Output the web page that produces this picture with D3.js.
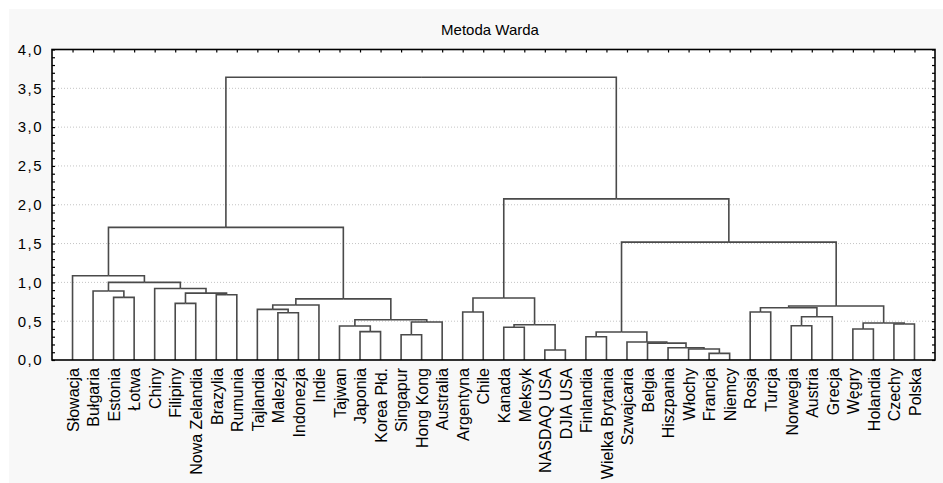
<!DOCTYPE html>
<html>
<head>
<meta charset="utf-8">
<script src="https://cdn.jsdelivr.net/npm/d3@7"></script>
<style>
  html, body { margin: 0; padding: 0; background: #fff; }
  svg { display: block; font-family: "Liberation Sans", Arial, sans-serif; }
</style>
</head>
<body>
<svg id="chart" width="943" height="483"></svg>
<script>
// ---------------- data ----------------
const title = "Metoda Warda";

const leaves = [
  "Słowacja","Bułgaria","Estonia","Łotwa","Chiny","Filipiny","Nowa Zelandia","Brazylia","Rumunia",
  "Tajlandia","Malezja","Indonezja","Indie","Tajwan","Japonia","Korea Płd.","Singapur","Hong Kong","Australia",
  "Argentyna","Chile","Kanada","Meksyk","NASDAQ USA","DJIA USA",
  "Finlandia","Wielka Brytania","Szwajcaria","Belgia","Hiszpania","Włochy","Francja","Niemcy",
  "Rosja","Turcja","Norwegia","Austria","Grecja","Węgry","Holandia","Czechy","Polska"
];

// merges: [cluster id, child A, child B, linkage distance]
const merges = [
  ["L1","Estonia","Łotwa",0.807],
  ["L2","Bułgaria","L1",0.888],
  ["L3","Filipiny","Nowa Zelandia",0.730],
  ["L4","Brazylia","Rumunia",0.840],
  ["L5","L3","L4",0.862],
  ["L6","Chiny","L5",0.922],
  ["L7","L2","L6",1.000],
  ["L8","Słowacja","L7",1.085],
  ["A1","Malezja","Indonezja",0.609],
  ["A2","Tajlandia","A1",0.652],
  ["A3","A2","Indie",0.708],
  ["A4","Japonia","Korea Płd.",0.365],
  ["A5","Tajwan","A4",0.438],
  ["A6","Singapur","Hong Kong",0.326],
  ["A7","A6","Australia",0.489],
  ["A8","A5","A7",0.519],
  ["A9","A3","A8",0.787],
  ["LEFT","L8","A9",1.709],
  ["B1","Argentyna","Chile",0.618],
  ["B2","Kanada","Meksyk",0.421],
  ["B3","NASDAQ USA","DJIA USA",0.129],
  ["B4","B2","B3",0.455],
  ["B5","B1","B4",0.798],
  ["C1","Finlandia","Wielka Brytania",0.300],
  ["C2","Francja","Niemcy",0.085],
  ["C3","Włochy","C2",0.142],
  ["C4","Hiszpania","C3",0.158],
  ["C5","Belgia","C4",0.218],
  ["C6","Szwajcaria","C5",0.232],
  ["C7","C1","C6",0.360],
  ["D1","Rosja","Turcja",0.618],
  ["D2","Norwegia","Austria",0.442],
  ["D3","D2","Grecja",0.557],
  ["D4","D1","D3",0.673],
  ["D5","Węgry","Holandia",0.399],
  ["D6","Czechy","Polska",0.463],
  ["D7","D5","D6",0.476],
  ["D8","D4","D7",0.695],
  ["E1","C7","D8",1.519],
  ["E2","B5","E1",2.076],
  ["ROOT","LEFT","E2",3.642]
];

const yMajorTicks = [0,0.5,1,1.5,2,2.5,3,3.5,4];
const yMinorTicks = d3.range(0, 40.5, 1).map(d => d / 10);
const gridTicks = [0.5,1,1.5,2,2.5,3,3.5];

// ---------------- layout ----------------
const W = 943, H = 483;
const plot = { left: 52, right: 935, top: 49.5, bottom: 360 };

const svg = d3.select("#chart");

// backgrounds
svg.append("rect").attr("x",0).attr("y",0).attr("width",W).attr("height",H).attr("fill","#f8f8f8");
svg.append("rect").attr("x",0).attr("y",0).attr("width",W).attr("height",9).attr("fill","#ffffff");
svg.append("rect").attr("x",0).attr("y",0).attr("width",9).attr("height",H).attr("fill","#ffffff");
svg.append("rect").attr("x",plot.left).attr("y",plot.top)
   .attr("width",plot.right-plot.left).attr("height",plot.bottom-plot.top).attr("fill","#ffffff");

const x = d3.scalePoint().domain(leaves).range([plot.left, plot.right]).padding(1);
const y = d3.scaleLinear().domain([0,4]).range([plot.bottom, plot.top]);

// build hierarchy
const nodeMap = new Map();
leaves.forEach(n => nodeMap.set(n, { id: n, height: 0, children: null }));
merges.forEach(([id,a,b,h]) => nodeMap.set(id, { id, height: h, children: [nodeMap.get(a), nodeMap.get(b)] }));
const root = d3.hierarchy(nodeMap.get("ROOT"), d => d.children);
root.eachAfter(n => {
  n.px = n.children ? d3.mean(n.children, c => c.px) : x(n.data.id);
  n.py = y(n.data.height);
});

// grid lines
svg.append("g").selectAll("line").data(gridTicks).join("line")
  .attr("x1", plot.left).attr("x2", plot.right)
  .attr("y1", d => y(d)).attr("y2", d => y(d))
  .attr("stroke", "#c4c4c4").attr("stroke-width", 1)
  .attr("stroke-dasharray", "1,2");

// dendrogram links
const links = [];
root.each(n => { if (n.children) n.children.forEach(c => links.push({ p: n, c })); });
svg.append("g").selectAll("path").data(links).join("path")
  .attr("d", d => `M${d.c.px},${d.c.py}V${d.p.py}H${d.p.px}`)
  .attr("fill","none").attr("stroke","#4a4a4a").attr("stroke-width",1.6);

// axes
const fmt = d => d3.format(".1f")(d).replace(".", ",");

const gLeftMinor = svg.append("g").attr("transform",`translate(${plot.left},0)`)
  .call(d3.axisRight(y).tickValues(yMinorTicks).tickSize(3).tickFormat(""));
gLeftMinor.select(".domain").remove();

const gLeft = svg.append("g").attr("transform",`translate(${plot.left},0)`)
  .call(d3.axisLeft(y).tickValues(yMajorTicks).tickSize(0).tickPadding(9).tickFormat(fmt));
gLeft.select(".domain").remove();
gLeft.selectAll("text").attr("font-size", 15).attr("letter-spacing", "1.5px").attr("fill","#000")
  .attr("font-family", "'Liberation Sans', Arial, sans-serif");

const gRight = svg.append("g").attr("transform",`translate(${plot.right},0)`)
  .call(d3.axisLeft(y).tickValues(yMinorTicks).tickSize(3).tickFormat(""));
gRight.select(".domain").remove();

const gTop = svg.append("g").attr("transform",`translate(0,${plot.top})`)
  .call(d3.axisBottom(x).tickSize(3).tickFormat(""));
gTop.select(".domain").remove();

const gBottom = svg.append("g").attr("transform",`translate(0,${plot.bottom})`)
  .call(d3.axisBottom(x).tickSize(0));
gBottom.select(".domain").remove();
gBottom.selectAll("text")
  .attr("transform","rotate(-90)")
  .attr("text-anchor","end")
  .attr("x",-8).attr("y",0).attr("dy","0.36em")
  .attr("font-size",16).attr("fill","#000")
  .attr("font-family", "'Liberation Sans', Arial, sans-serif");

svg.selectAll(".tick line").attr("stroke","#000").attr("stroke-width",1.2);

// frame
svg.append("rect").attr("x",plot.left).attr("y",plot.top)
  .attr("width",plot.right-plot.left).attr("height",plot.bottom-plot.top)
  .attr("fill","none").attr("stroke","#000").attr("stroke-width",1.6);

// title
svg.append("text").attr("x", 490).attr("y", 35).attr("text-anchor","middle")
  .attr("font-size", 15).attr("fill","#000").text(title);
</script>
</body>
</html>
